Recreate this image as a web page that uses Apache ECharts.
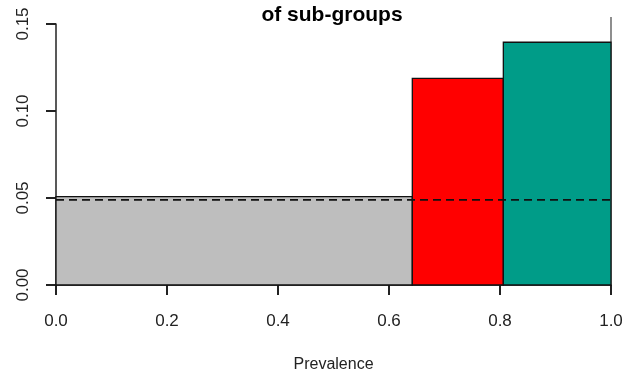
<!DOCTYPE html>
<html>
<head>
<meta charset="utf-8">
<script src="https://cdn.jsdelivr.net/npm/echarts@6/dist/echarts.min.js"></script>
<style>
  html, body { margin: 0; padding: 0; background: #fff; }
  #chart { width: 633px; height: 376px; }
</style>
</head>
<body>
<div id="chart"></div>
<script>
// Sub-group intervals along prevalence, with their bar heights
const groupStart = [0.0, 0.642, 0.806];
const groupEnd = [0.642, 0.806, 1.0];
const groupValue = [0.0508, 0.1188, 0.1395];
const groupColor = ['#BEBEBE', '#FF0000', '#009C88'];
// Overall reference level (dashed) and the right-edge marker
const overallLevel = 0.0489;
const edgeMarker = [1.0, 0.154];
const xTicks = [0, 0.2, 0.4, 0.6, 0.8, 1.0];
const yTicks = [0, 0.05, 0.10, 0.15];

const FONT = '"Liberation Sans", Arial, sans-serif';

const bars = groupStart.map((s, i) => [s, groupEnd[i], groupValue[i], i]);

const chart = echarts.init(document.getElementById('chart'));
chart.setOption({
  animation: false,
  title: {
    text: 'of sub-groups',
    left: 327, top: 0, textAlign: 'center',
    textStyle: { fontFamily: FONT, fontSize: 21, fontWeight: 'bold', color: '#000' }
  },
  grid: { left: 56, right: 22, top: 24, bottom: 91, containLabel: false, outerBoundsMode: 'none' },
  xAxis: {
    type: 'value', min: 0, max: 1, interval: 0.2,
    name: 'Prevalence', nameLocation: 'middle', nameGap: 72,
    nameTextStyle: { fontFamily: FONT, fontSize: 16, color: '#222' },
    axisLine: { show: true, onZero: false, lineStyle: { color: '#222', width: 1.5 } },
    axisTick: { show: true, inside: false, length: 10, lineStyle: { color: '#222', width: 2 } },
    axisLabel: {
      fontFamily: FONT, fontSize: 17, color: '#222', margin: 28,
      formatter: v => v.toFixed(1)
    },
    splitLine: { show: false }
  },
  yAxis: {
    type: 'value', min: 0, max: 0.15, interval: 0.05,
    axisLine: { show: true, lineStyle: { color: '#222', width: 1.5 } },
    axisTick: { show: true, inside: false, length: 10, lineStyle: { color: '#222', width: 2 } },
    axisLabel: {
      fontFamily: FONT, fontSize: 17, color: '#222', margin: 24, rotate: 90,
      formatter: v => v.toFixed(2)
    },
    splitLine: { show: false }
  },
  series: [
    {
      type: 'custom',
      clip: false,
      data: bars,
      encode: { x: [0, 1], y: 2 },
      renderItem: (params, api) => {
        const p0 = api.coord([api.value(0), 0]);
        const p1 = api.coord([api.value(1), api.value(2)]);
        const idx = api.value(3);
        return {
          type: 'rect',
          shape: { x: p0[0], y: p1[1], width: p1[0] - p0[0], height: p0[1] - p1[1] },
          style: { fill: groupColor[idx], stroke: '#111', lineWidth: 1.3 }
        };
      },
      z: 2
    },
    {
      type: 'line',
      data: [[0, overallLevel], [1, overallLevel]],
      symbol: 'none',
      lineStyle: { color: '#111', width: 1.8, type: [8, 5] },
      z: 3
    },
    {
      type: 'line',
      data: [[edgeMarker[0], 0], edgeMarker],
      symbol: 'none',
      clip: false,
      lineStyle: { color: '#444', width: 1.2 },
      z: 1
    }
  ]
});
</script>
</body>
</html>
